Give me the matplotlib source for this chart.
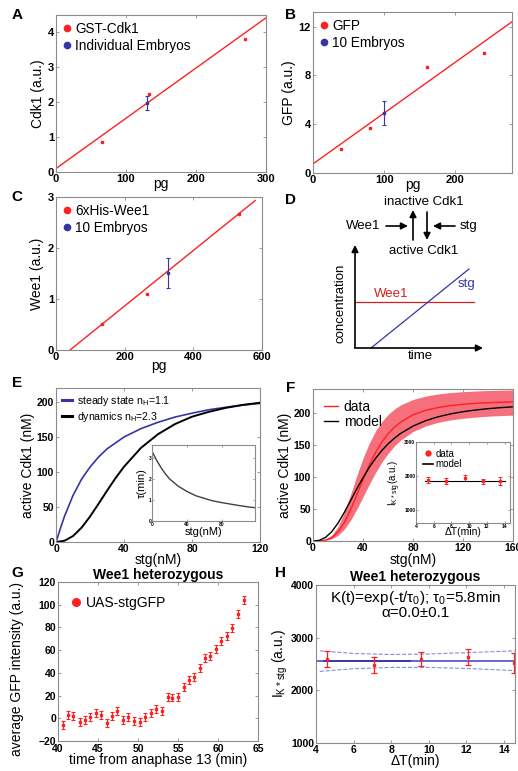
import matplotlib
matplotlib.use('Agg')
import matplotlib.pyplot as plt

plt.rcParams['font.family'] = ['Liberation Sans', 'DejaVu Sans']
plt.rcParams['mathtext.default'] = 'regular'

W, H = 518, 771
RED = '#ff2020'
BLUE = '#3535a5'
GRAY = '#8c8c8c'

# --- A: Cdk1 standard curve
a_pg = [65, 133, 270]
a_cdk1 = [0.87, 2.25, 3.8]
a_emb_pg = [130]
a_emb = [1.97]
a_emb_err = [0.2]
a_fit_pg = [0, 300]
a_fit = [0.1, 4.42]

# --- B: GFP standard curve
b_pg = [40, 80, 160, 240]
b_gfp = [2.0, 3.7, 8.7, 9.8]
b_emb_pg = [100]
b_emb = [4.9]
b_emb_err = [1.0]
b_fit_pg = [0, 280]
b_fit = [0.75, 12.4]

# --- C: Wee1 standard curve
c_pg = [134, 265, 533]
c_wee1 = [0.51, 1.1, 2.66]
c_emb_pg = [327]
c_emb = [1.51]
c_emb_err = [0.3]
c_fit_pg = [41, 580]
c_fit = [0.0, 2.93]

# --- E: model curves
e_ss_stg = [0, 1, 2.5, 5, 10, 15, 20, 25, 30, 40, 50, 60, 70, 80, 90, 100, 110, 120]
e_ss = [0, 7.2, 18.8, 36.8, 66.5, 89.6, 107, 121.3, 133, 150, 162, 171, 178.5, 184, 189, 192.5, 195.7, 198]
e_dyn_stg = [0, 5, 10, 15, 20, 25, 30, 35, 40, 50, 60, 70, 80, 90, 100, 110, 120]
e_dyn = [0, 1.8, 8.5, 20.4, 36.3, 54.5, 73.2, 91.2, 107.5, 134.5, 154, 168.5, 179, 186, 191.7, 195.9, 199]
e_tau_stg = [0, 5, 10, 15, 20, 30, 40, 50, 60, 70, 80, 90, 100, 110, 118]
e_tau = [3.3, 2.9, 2.55, 2.25, 2.0, 1.65, 1.4, 1.2, 1.07, 0.95, 0.87, 0.8, 0.73, 0.67, 0.63]

# --- F: data vs model
f_stg = [0, 5, 10, 15, 20, 25, 30, 35, 40, 45, 50, 55, 60, 65, 70, 80, 90, 100, 110, 120, 130, 140, 150, 160]
f_data = [0, 0.1, 1.3, 5.4, 14.1, 28.6, 48.7, 72, 96, 118.8, 138.4, 154.6, 167.7, 178, 186, 197.6,
          204.6, 209, 212, 214, 215.6, 216.5, 217.3, 218]
f_hi = [0, 0.3, 2.2, 8.9, 22.7, 44.7, 72.4, 102, 129.7, 153, 172, 186.8, 198, 206.5, 213, 221.6,
        226.8, 230.2, 232.4, 233.8, 234.8, 235.6, 236, 236.5]
f_lo = [0, 0.1, 0.8, 3.4, 8.9, 18.5, 32.3, 49.7, 69, 88.8, 107, 123.4, 137, 148.6, 157.8, 171.4,
        180, 185.8, 189.6, 192.2, 194, 195.4, 196.4, 197]
f_model = [0, 1.0, 5.6, 14.6, 28, 44.6, 63, 81.6, 99, 115.2, 129.3, 141.5, 152, 160.8, 168.3, 179.9,
           188.3, 194.4, 199, 202.5, 205.1, 207.2, 208.8, 210.1]
fi_dt = [5.4, 7.4, 9.5, 11.5, 13.5]
fi_val = [1870, 1850, 1920, 1840, 1850]
fi_err = [90, 80, 90, 70, 110]
fi_model_dt = [5, 14]
fi_model = [1855, 1855]

# --- G: UAS-stgGFP time course
g_t = [40.6, 41.3, 41.9, 42.7, 43.4, 44.0, 44.7, 45.4, 46.1, 46.8, 47.4, 48.1, 48.8, 49.5, 50.2,
       50.9, 51.6, 52.3, 53.0, 53.7, 54.3, 55.0, 55.7, 56.4, 57.0, 57.7, 58.4, 59.0, 59.75, 60.4,
       61.1, 61.8, 62.5, 63.2]
g_gfp = [-6.2, 3.3, 1.8, -3.2, -1.2, 0.9, 4.7, 2.6, -3.8, 2.4, 6.8, -1.2, 1.2, -2.4, -3.2,
         0.9, 4.7, 8.0, 6.5, 18.9, 18.3, 18.9, 27.7, 33.6, 36.6, 44.5, 52.8, 54.9, 61, 68.4,
         72.8, 79.9, 91.8, 104.4]
g_err = [3.5] * len(g_t)

# --- H: I_K*stg vs dT
h_dt = [4.6, 7.1, 9.6, 12.1, 14.55]
h_val = [2600, 2480, 2590, 2640, 2510]
h_err = [150, 160, 130, 150, 190]
h_fit_dt = [4, 14.6]
h_fit = [2560, 2560]
h_fit2_dt = [4.4, 9]
h_ci_dt = [4.2, 6, 8, 10, 12, 14.6]
h_ci_hi = [2750, 2700, 2680, 2690, 2715, 2750]
h_ci_lo = [2360, 2410, 2435, 2435, 2415, 2375]


fig = plt.figure(figsize=(W / 100, H / 100), dpi=100)


def box(l, t, r, b):
    return fig.add_axes([l / W, 1 - b / H, (r - l) / W, (b - t) / H])


def style(ax, fs=7.5, ln=2.5):
    for s in ax.spines.values():
        s.set_color(GRAY)
        s.set_linewidth(0.8)
    ax.tick_params(direction='in', top=True, right=True, length=ln, width=0.6,
                   color=GRAY, labelsize=fs, pad=1.5)
    for lab in ax.get_xticklabels() + ax.get_yticklabels():
        lab.set_fontweight('bold')


def std_legend(ax, names, fs=9.8):
    ax.plot([], [], 'o', color=RED, ms=4.5, label=names[0])
    ax.plot([], [], 'o', color=BLUE, ms=4.5, label=names[1])
    ax.legend(loc='upper left', frameon=False, fontsize=fs, handlelength=0.6,
              handletextpad=0.3, borderaxespad=0.1, labelspacing=0.25)


def std_panel(ax, pg, val, epg, ev, eerr, fpg, fv):
    ax.plot(fpg, fv, color=RED, lw=1.0)
    ax.plot(pg, val, 's', color=RED, ms=2)
    ax.errorbar(epg, ev, yerr=eerr, fmt='s', color=BLUE, ms=2, elinewidth=0.8,
                capsize=1.5, capthick=0.8)


# A
ax = box(56, 15, 266, 172)
std_panel(ax, a_pg, a_cdk1, a_emb_pg, a_emb, a_emb_err, a_fit_pg, a_fit)
ax.set_xlim(0, 300)
ax.set_ylim(0, 4.5)
ax.set_xticks([0, 100, 200, 300])
ax.set_yticks([0, 1, 2, 3, 4])
ax.set_ylabel('Cdk1 (a.u.)', fontsize=10, labelpad=2)
ax.set_xlabel('pg', fontsize=10, labelpad=-5)
std_legend(ax, ['GST-Cdk1', 'Individual Embryos'])
style(ax, fs=8)

# B
ax = box(313, 12, 512, 173)
std_panel(ax, b_pg, b_gfp, b_emb_pg, b_emb, b_emb_err, b_fit_pg, b_fit)
ax.set_xlim(0, 280)
ax.set_ylim(0, 13.2)
ax.set_xticks([0, 100, 200])
ax.set_yticks([0, 4, 8, 12])
ax.set_ylabel('GFP (a.u.)', fontsize=10, labelpad=2)
ax.set_xlabel('pg', fontsize=10, labelpad=-5)
std_legend(ax, ['GFP', '10 Embryos'])
style(ax, fs=8)

# C
ax = box(56, 197, 262, 350)
std_panel(ax, c_pg, c_wee1, c_emb_pg, c_emb, c_emb_err, c_fit_pg, c_fit)
ax.set_xlim(0, 600)
ax.set_ylim(0, 3)
ax.set_xticks([0, 200, 400, 600])
ax.set_yticks([0, 1, 2, 3])
ax.set_ylabel('Wee1 (a.u.)', fontsize=10, labelpad=3)
ax.set_xlabel('pg', fontsize=10, labelpad=-2)
std_legend(ax, ['6xHis-Wee1', '10 Embryos'])
style(ax, fs=8)

# E
ax = box(56, 388, 260, 542)
ax.plot(e_ss_stg, e_ss, color=BLUE, lw=1.2, label='steady state n$_H$=1.1')
ax.plot(e_dyn_stg, e_dyn, color='k', lw=1.4, label='dynamics n$_H$=2.3')
ax.set_xlim(0, 120)
ax.set_ylim(0, 220)
ax.set_xticks([0, 40, 80, 120])
ax.set_yticks([0, 50, 100, 150, 200])
ax.set_ylabel('active Cdk1 (nM)', fontsize=10, labelpad=1)
ax.set_xlabel('stg(nM)', fontsize=10, labelpad=-1)
leg = ax.legend(loc='upper left', frameon=False, fontsize=7.6, handlelength=1.0,
                handletextpad=0.4, borderaxespad=0.15, labelspacing=0.2)
for l in leg.get_lines():
    l.set_linewidth(2.2)
style(ax)

ax = box(152, 445, 255, 521)
ax.plot(e_tau_stg, e_tau, color='#404040', lw=1.0)
ax.set_xlim(0, 118)
ax.set_ylim(0, 3.6)
ax.set_xticks([0, 40, 80])
ax.set_yticks([0, 1, 2, 3])
ax.set_ylabel('τ(min)', fontsize=8, labelpad=1)
ax.set_xlabel('stg(nM)', fontsize=8, labelpad=0)
style(ax, fs=3.5, ln=1.5)
ax.tick_params(pad=0.5)

# F
ax = box(313, 389, 513, 541)
ax.fill_between(f_stg, f_lo, f_hi, color='#f5707c', lw=0)
ax.plot(f_stg, f_data, color=RED, lw=1.0, label='data')
ax.plot(f_stg, f_model, color='k', lw=1.0, label='model')
ax.set_xlim(0, 160)
ax.set_ylim(0, 238)
ax.set_xticks([0, 40, 80, 120, 160])
ax.set_yticks([0, 50, 100, 150, 200])
ax.set_ylabel('active Cdk1 (nM)', fontsize=10, labelpad=1)
ax.set_xlabel('stg(nM)', fontsize=10, labelpad=0)
ax.legend(loc='upper left', frameon=False, fontsize=10, handlelength=1.0,
          handletextpad=0.4, borderaxespad=0.4, labelspacing=0.05)
style(ax)

ax = box(416, 442, 510, 523)
ax.errorbar(fi_dt, fi_val, yerr=fi_err, fmt='s', color=RED, ms=1.5, elinewidth=0.7,
            capsize=1.2, capthick=0.7)
ax.plot(fi_model_dt, fi_model, color='k', lw=0.8)
ax.plot([], [], 'o', color=RED, ms=3.5, label='data')
ax.plot([], [], '-', color='k', lw=1.2, label='model')
ax.set_xlim(4, 14.6)
ax.set_ylim(600, 3000)
ax.set_xticks([4, 6, 8, 10, 12, 14])
ax.set_yticks([1000, 2000, 3000])
ax.set_ylabel('I$_{K*stg}$(a.u.)', fontsize=7, labelpad=1)
ax.set_xlabel('ΔT(min)', fontsize=7.5, labelpad=-1)
ax.legend(loc='upper left', frameon=False, fontsize=7, handlelength=1.0,
          handletextpad=0.3, borderaxespad=0.3, labelspacing=0.05)
style(ax, fs=3.5, ln=1.5)
ax.tick_params(pad=0.5)

# G
ax = box(58, 582, 258, 741)
ax.errorbar(g_t, g_gfp, yerr=g_err, fmt='s', color=RED, ms=1.5, elinewidth=0.8,
            capsize=1.5, capthick=0.8)
ax.plot([], [], 'o', color=RED, ms=5.5, label='UAS-stgGFP')
ax.set_xlim(40, 65)
ax.set_ylim(-20, 120)
ax.set_xticks([40, 45, 50, 55, 60, 65])
ax.set_yticks([-20, 0, 20, 40, 60, 80, 100, 120])
ax.set_ylabel('average GFP intensity (a.u.)', fontsize=10, labelpad=1)
ax.yaxis.set_label_coords(-0.17, 0.45)
ax.set_xlabel('time from anaphase 13 (min)', fontsize=10, labelpad=-1)
ax.set_title('Wee1 heterozygous', fontsize=10, fontweight='bold', pad=2)
ax.legend(loc='upper left', frameon=False, fontsize=10, handlelength=0.6,
          handletextpad=0.4, borderaxespad=0.6)
style(ax)
ax.tick_params(axis='x', pad=2.5)

# H
ax = box(316, 585, 515, 743)
ax.plot(h_ci_dt, h_ci_hi, '--', color='#8a8ad8', lw=0.8)
ax.plot(h_ci_dt, h_ci_lo, '--', color='#8a8ad8', lw=0.8)
ax.plot(h_fit_dt, h_fit, color='#5a5ad0', lw=1.3)
ax.plot(h_fit2_dt, h_fit, color=BLUE, lw=1.3)
ax.errorbar(h_dt, h_val, yerr=h_err, fmt='s', color=RED, ms=1.8, elinewidth=0.9,
            capsize=2.5, capthick=0.9)
ax.set_xlim(4, 14.6)
ax.set_ylim(1000, 4000)
ax.set_xticks([4, 6, 8, 10, 12, 14])
ax.set_yticks([1000, 2000, 3000, 4000])
ax.set_ylabel('I$_{K*stg}$ (a.u.)', fontsize=10, labelpad=1)
ax.set_xlabel('ΔT(min)', fontsize=10, labelpad=-1)
ax.set_title('Wee1 heterozygous', fontsize=10, fontweight='bold', pad=3)
ax.text(0.5, 0.975, 'K(t)=exp(-t/τ$_0$); τ$_0$=5.8min', transform=ax.transAxes,
        ha='center', va='top', fontsize=11)
ax.text(0.5, 0.87, 'α=0.0±0.1', transform=ax.transAxes, ha='center', va='top', fontsize=11)
style(ax)

# D: schematic, drawn in pixel space over the whole figure
ov = fig.add_axes([0, 0, 1, 1], zorder=-1)
ov.set_xlim(0, W)
ov.set_ylim(H, 0)
ov.axis('off')
arr = dict(arrowstyle='-|>', color='k', lw=1.2, mutation_scale=10, shrinkA=0, shrinkB=0)
ov.annotate('', xy=(413, 210), xytext=(413, 240), arrowprops=arr)
ov.annotate('', xy=(427, 240), xytext=(427, 212), arrowprops=arr)
ov.annotate('', xy=(408, 226), xytext=(386, 226), arrowprops=arr)
ov.annotate('', xy=(433, 226), xytext=(455, 226), arrowprops=arr)
ov.annotate('', xy=(355, 245), xytext=(355, 348), arrowprops=arr)
ov.annotate('', xy=(483, 348), xytext=(355, 348), arrowprops=arr)
ov.text(424, 202, 'inactive Cdk1', ha='center', va='center', fontsize=9.5)
ov.text(424, 251, 'active Cdk1', ha='center', va='center', fontsize=9.5)
ov.text(363, 226, 'Wee1', ha='center', va='center', fontsize=9.5)
ov.text(469, 226, 'stg', ha='center', va='center', fontsize=9.5)
ov.text(341, 303, 'concentration', ha='center', va='center', rotation=90, fontsize=9.5)
ov.text(420, 356, 'time', ha='center', va='center', fontsize=9.5)
ov.plot([355, 474], [302, 302], color='#d02020', lw=0.9)
ov.plot([371, 469], [348, 269], color=BLUE, lw=0.9)
ov.text(391, 294, 'Wee1', ha='center', va='center', fontsize=9.5, color='#d02020')
ov.text(467, 284, 'stg', ha='center', va='center', fontsize=9.5, color=BLUE)

# panel letters
for s, x, y in [('A', 17, 15), ('B', 290, 15), ('C', 17, 197), ('D', 291, 200),
                ('E', 17, 383), ('F', 291, 388), ('G', 17, 573), ('H', 281, 573)]:
    ov.text(x, y, s, ha='center', va='center', fontsize=11, fontweight='bold')

fig.savefig('out.png', dpi=100)
